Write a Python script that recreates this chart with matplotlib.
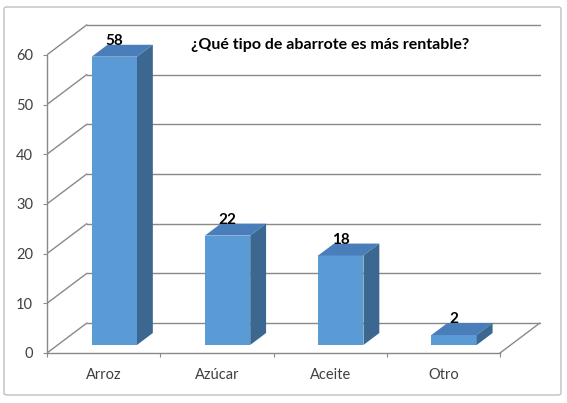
### Bar chart (Excel-style 3D look) - ¿Qué tipo de abarrote es más rentable? ###

import numpy as np
import matplotlib
matplotlib.use("Agg")
import matplotlib.pyplot as plt
from matplotlib.patches import Polygon, FancyBboxPatch

### Data ###
categories = ['Arroz', 'Azúcar', 'Aceite', 'Otro']
values = [58, 22, 18, 2]
y_ticks = [0, 10, 20, 30, 40, 50, 60]
title = '¿Qué tipo de abarrote es más rentable?'

### Style constants ###
plt.rcParams['font.family'] = ['Lato', 'DejaVu Sans']
front_color = '#5B9BD5'
top_color = '#4A7EBB'
side_color = '#3B6790'
grid_color = '#898989'
text_color = '#404040'

# depth of the 3D box in data units (x in categories, y in values)
DX, DY = 0.35, 6.0
bar_d0, bar_d1 = 0.27, 0.67   # front / back of the bars as depth fraction
bar_w = 0.4

fig = plt.figure(figsize=(5.67, 4.03), dpi=100)
ax = fig.add_axes([47 / 567, 50 / 403, 4.36 * 113.25 / 567, 66.6 * 4.97 / 403])
ax.set_xlim(0, 4.36)
ax.set_ylim(0, 66.6)
ax.patch.set_visible(False)

# chart border
fig.patches.append(FancyBboxPatch((4 / 567, 8 / 403), 557 / 567, 388 / 403,
                                  boxstyle='round,pad=0,rounding_size=0.005',
                                  transform=fig.transFigure, fill=False,
                                  edgecolor='#BFBFBF', lw=1))

## walls and floor ##
for v in y_ticks:
    ax.plot([DX, 4 + DX], [v + DY, v + DY], color=grid_color, lw=1, zorder=1)
    ax.plot([0, DX], [v, v + DY], color=grid_color, lw=1, zorder=1)
ax.plot([4, 4 + DX], [0, DY], color=grid_color, lw=1, zorder=1)

## bars ##
centers = np.arange(len(categories)) + 0.5
b0 = bar_d0 * DY
ddx = (bar_d1 - bar_d0) * DX
ddy = (bar_d1 - bar_d0) * DY
xc = centers + bar_d0 * DX
ax.bar(xc, values, width=bar_w, bottom=b0, color=front_color, zorder=3)
for x, v in zip(xc, values):
    xl, xr = x - bar_w / 2, x + bar_w / 2
    top = [(xl, v + b0), (xr, v + b0), (xr + ddx, v + b0 + ddy), (xl + ddx, v + b0 + ddy)]
    side = [(xr, b0), (xr + ddx, b0 + ddy), (xr + ddx, v + b0 + ddy), (xr, v + b0)]
    ax.add_patch(Polygon(top, closed=True, facecolor=top_color, edgecolor='none', zorder=3))
    ax.add_patch(Polygon(side, closed=True, facecolor=side_color, edgecolor='none', zorder=3))
    ax.text(x, v + b0 + ddy + 0.8, str(v), ha='center', va='center',
            fontsize=11, fontweight='bold', color='black', zorder=4)

## axes ##
for s in ['top', 'right']:
    ax.spines[s].set_visible(False)
ax.spines['left'].set_bounds(0, 60)
ax.spines['bottom'].set_bounds(0, 4)
for s in ['left', 'bottom']:
    ax.spines[s].set_color(grid_color)
    ax.spines[s].set_linewidth(1)

ax.set_yticks(y_ticks)
ax.tick_params(axis='y', length=3, pad=7, color=grid_color, labelcolor=text_color, labelsize=10.5)
ax.set_xticks(range(5))
ax.set_xticklabels([])
ax.set_xticks(centers, minor=True)
ax.set_xticklabels(categories, minor=True)
ax.tick_params(axis='x', which='major', length=3, color=grid_color)
ax.tick_params(axis='x', which='minor', length=0, pad=11, labelcolor=text_color, labelsize=10.5)

ax.text(2.5, 62.0, title, ha='center', va='center', fontsize=11.5, fontweight='bold', color='black')

fig.savefig('out.png', dpi=100)
